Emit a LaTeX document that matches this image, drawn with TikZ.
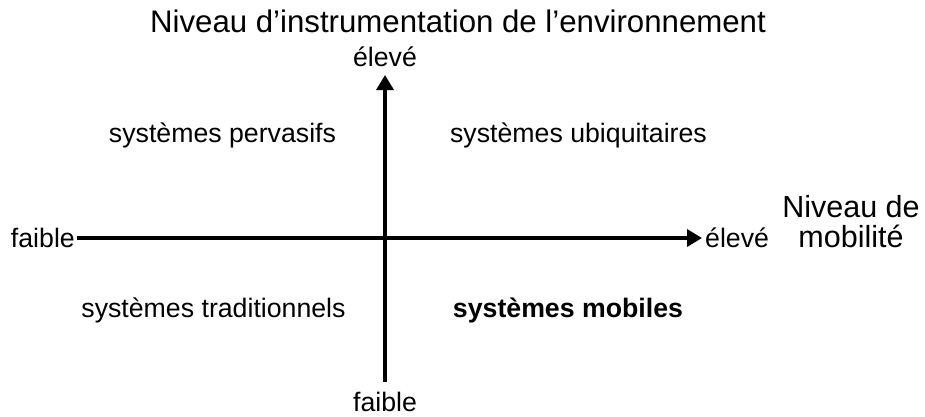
\documentclass[tikz,border=0pt]{standalone}
\usepackage{fontspec}
\setmainfont{Liberation Sans}
\usetikzlibrary{positioning,arrows.meta}

\begin{document}
\begin{tikzpicture}[
      x=1pt,y=-1pt,
      axe/.style={
        line width=3.5pt,
        -{Triangle[length=15pt,width=17pt]}
      },
      lbl/.style={
        inner sep=0pt,
        font=\fontsize{26.7}{30}\selectfont
      },
      titre/.style={
        inner sep=0pt,
        align=center,
        font=\fontsize{30.5}{30}\selectfont
      },
      node distance=3pt
      ]
      \useasboundingbox (0,0) rectangle (925,416);
      \coordinate (xg) at (77,238);
      \coordinate (xd) at (702,238);
      \coordinate (yb) at (385,382);
      \coordinate (yh) at (385,75);

      \draw[axe] (xg) -- (xd);
      \draw[axe] (yb) -- (yh);

      \node[lbl,left=2pt of xg] (xfaible) {faible};
      \node[lbl,right=3pt of xd] (xeleve) {élevé};
      \node[lbl,above=8pt of yh] (yeleve) {élevé};
      \node[lbl,below=10pt of yb] (yfaible) {faible};

      \node[titre,anchor=base,font=\fontsize{31.2}{30}\selectfont] at (458,32)
        (ytitre) {Niveau d’instrumentation de l’environnement};
      \node[titre,anchor=north] at (851,195)
        (xtitre) {Niveau de\\mobilité};

      \node[lbl,anchor=base] at (222.5,142) (perv) {systèmes pervasifs};
      \node[lbl,anchor=base] at (578.5,142) (ubiq) {systèmes ubiquitaires};
      \node[lbl,anchor=base] at (213.5,317) (trad) {systèmes traditionnels};
      \node[lbl,anchor=base,font=\fontsize{26.7}{30}\selectfont\bfseries]
        at (568,317) (mob) {systèmes mobiles};
    \end{tikzpicture}
\end{document}
